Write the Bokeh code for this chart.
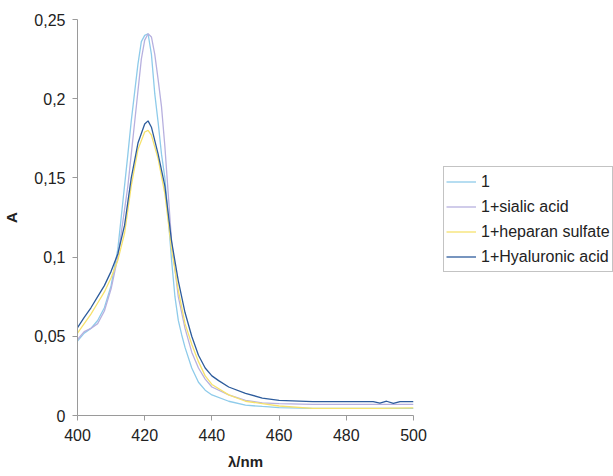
from bokeh.plotting import figure
from bokeh.models import Legend, LegendItem, FixedTicker
from bokeh.embed import file_html
from bokeh.resources import INLINE

# wavelength (nm) and absorbance for each series
x_1 = [400, 402, 404, 406, 408, 410, 412, 413, 414, 415, 416, 417, 418, 419, 420, 421, 422, 423, 424, 425, 426, 427, 428, 429, 430, 431, 432, 434, 436, 438, 440, 445, 450, 455, 460, 470, 480, 490, 500]
y_1 = [0.047, 0.052, 0.055, 0.060, 0.068, 0.082, 0.105, 0.125, 0.145, 0.165, 0.186, 0.204, 0.222, 0.236, 0.240, 0.241, 0.228, 0.203, 0.185, 0.165, 0.150, 0.125, 0.098, 0.075, 0.060, 0.051, 0.043, 0.030, 0.021, 0.016, 0.013, 0.009, 0.0065, 0.0057, 0.005, 0.0045, 0.0045, 0.0045, 0.0045]

x_sialic = [400, 402, 404, 406, 408, 410, 412, 414, 415, 416, 417, 418, 419, 420, 421, 422, 423, 424, 425, 426, 427, 428, 430, 432, 434, 436, 438, 440, 445, 450, 455, 460, 470, 480, 490, 500]
y_sialic = [0.048, 0.053, 0.055, 0.058, 0.066, 0.080, 0.100, 0.130, 0.145, 0.165, 0.185, 0.205, 0.225, 0.237, 0.241, 0.239, 0.228, 0.212, 0.195, 0.170, 0.140, 0.110, 0.075, 0.055, 0.040, 0.030, 0.023, 0.018, 0.013, 0.0095, 0.008, 0.0075, 0.007, 0.007, 0.007, 0.007]

x_heparan = [400, 402, 404, 406, 408, 410, 412, 414, 416, 418, 420, 421, 422, 424, 426, 428, 430, 432, 434, 436, 438, 440, 445, 450, 455, 460, 470, 480, 490, 500]
y_heparan = [0.052, 0.058, 0.064, 0.071, 0.078, 0.087, 0.098, 0.115, 0.145, 0.168, 0.179, 0.180, 0.177, 0.162, 0.140, 0.105, 0.079, 0.058, 0.045, 0.034, 0.025, 0.0196, 0.013, 0.009, 0.0075, 0.006, 0.0045, 0.0045, 0.0045, 0.0048]

x_hyal = [400, 402, 404, 406, 408, 410, 412, 414, 416, 418, 420, 421, 422, 424, 426, 428, 430, 432, 434, 436, 438, 440, 442, 445, 450, 455, 460, 470, 480, 488, 490, 492, 494, 496, 498, 500]
y_hyal = [0.0555, 0.062, 0.068, 0.075, 0.082, 0.091, 0.102, 0.120, 0.150, 0.172, 0.184, 0.186, 0.182, 0.165, 0.145, 0.110, 0.085, 0.065, 0.050, 0.038, 0.030, 0.025, 0.022, 0.018, 0.014, 0.011, 0.0095, 0.0088, 0.0088, 0.0088, 0.0078, 0.0090, 0.0076, 0.0088, 0.0088, 0.0088]

labels = ["1", "1+sialic acid", "1+heparan sulfate", "1+Hyaluronic acid"]
colors = ["#8ecbea", "#b7b0df", "#f6e26c", "#2d5c9c"]

x_ticks = [400, 420, 440, 460, 480, 500]
y_ticks = [0, 0.05, 0.1, 0.15, 0.2, 0.25]
y_tick_labels = ["0", "0,05", "0,1", "0,15", "0,2", "0,25"]

FONT = "Liberation Sans"

p = figure(frame_width=336, frame_height=396, x_range=(400, 500), y_range=(0, 0.25),
           output_backend="svg", toolbar_location=None,
           min_border_left=71, min_border_top=19, min_border_right=185, min_border_bottom=0)
p.outline_line_color = None
p.grid.visible = False

series = [(x_1, y_1), (x_sialic, y_sialic), (x_heparan, y_heparan), (x_hyal, y_hyal)]
renderers = []
for (xs, ys), c in zip(series, colors):
    renderers.append(p.line(xs, ys, line_color=c, line_width=1.3))

for ax in (p.xaxis[0], p.yaxis[0]):
    ax.axis_line_color = "#9a9a9a"
    ax.major_tick_line_color = "#9a9a9a"
    ax.major_tick_out = 5
    ax.major_tick_in = 0
    ax.minor_tick_line_color = None
    ax.major_label_text_font = FONT
    ax.major_label_text_font_size = "16px"
    ax.major_label_text_color = "#222222"
    ax.axis_label_text_font = FONT
    ax.axis_label_text_font_style = "bold"
    ax.axis_label_text_font_size = "15px"
    ax.axis_label_text_color = "#222222"

p.xaxis.ticker = FixedTicker(ticks=x_ticks)
p.yaxis.ticker = FixedTicker(ticks=y_ticks)
p.yaxis.major_label_overrides = {t: l for t, l in zip(y_ticks, y_tick_labels)}
p.xaxis.axis_label = "λ/nm"
p.yaxis.axis_label = "A"
p.xaxis.major_label_standoff = 8
p.xaxis.axis_label_standoff = 9
p.yaxis.major_label_standoff = 7
p.yaxis.axis_label_standoff = 11

legend = Legend(items=[LegendItem(label=l, renderers=[r]) for l, r in zip(labels, renderers)],
                location=(30, 143), orientation="vertical")
legend.border_line_color = "#888888"
legend.border_line_width = 1
legend.background_fill_alpha = 1
legend.label_text_font = FONT
legend.label_text_font_size = "16px"
legend.label_text_color = "#222222"
legend.padding = 2
legend.spacing = 0
legend.margin = 0
legend.label_height = 25
legend.glyph_height = 25
legend.glyph_width = 30
legend.label_standoff = 5
p.add_layout(legend, "right")

open("out.html", "w").write(file_html(p, INLINE))
